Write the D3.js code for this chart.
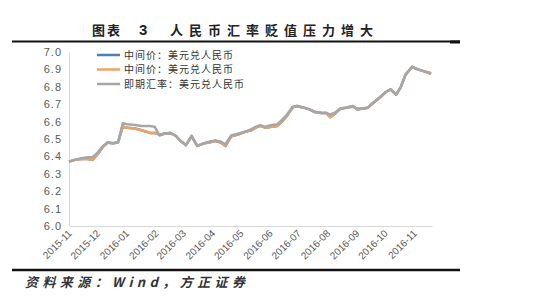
<!DOCTYPE html>
<html>
<head>
<meta charset="utf-8">
<script src="https://d3js.org/d3.v7.min.js"></script>
<style>
  body { margin: 0; background: #fff; }
  svg { display: block; }
</style>
</head>
<body>
<div id="chart"></div>
<script>
// data (weekly points)
var dates = ["2015-11-01", "2015-11-07", "2015-11-14", "2015-11-21", "2015-11-26", "2015-12-01",
    "2015-12-07", "2015-12-12", "2015-12-17", "2015-12-23", "2015-12-28", "2016-01-02",
    "2016-01-10", "2016-01-17", "2016-01-26", "2016-01-31", "2016-02-05", "2016-02-10",
    "2016-02-16", "2016-02-22", "2016-02-27", "2016-03-04", "2016-03-10", "2016-03-16",
    "2016-03-23", "2016-03-29", "2016-04-04", "2016-04-10", "2016-04-15", "2016-04-21",
    "2016-04-28", "2016-05-05", "2016-05-12", "2016-05-17", "2016-05-22", "2016-05-27",
    "2016-06-03", "2016-06-09", "2016-06-14", "2016-06-20", "2016-06-25", "2016-06-30",
    "2016-07-07", "2016-07-13", "2016-07-19", "2016-07-26", "2016-07-31", "2016-08-04",
    "2016-08-10", "2016-08-15", "2016-08-21", "2016-08-28", "2016-09-02", "2016-09-07",
    "2016-09-13", "2016-09-19", "2016-09-26", "2016-10-02", "2016-10-07", "2016-10-13",
    "2016-10-18", "2016-10-23", "2016-10-30", "2016-11-05", "2016-11-11", "2016-11-19"];

// 中间价 (drawn twice: blue underneath, orange on top)
var midRate = [6.370, 6.380, 6.385, 6.385, 6.380, 6.410,
    6.455, 6.480, 6.475, 6.480, 6.570, 6.565,
    6.560, 6.550, 6.535, 6.535, 6.525, 6.530,
    6.535, 6.520, 6.490, 6.465, 6.515, 6.460,
    6.475, 6.480, 6.490, 6.480, 6.460, 6.515,
    6.525, 6.540, 6.550, 6.565, 6.575, 6.565,
    6.570, 6.575, 6.600, 6.640, 6.680, 6.690,
    6.680, 6.670, 6.655, 6.650, 6.650, 6.625,
    6.650, 6.675, 6.680, 6.690, 6.670, 6.675,
    6.680, 6.710, 6.740, 6.770, 6.785, 6.755,
    6.800, 6.870, 6.915, 6.900, 6.890, 6.875];

// 即期汇率
var spotRate = [6.370, 6.380, 6.390, 6.395, 6.395, 6.420,
    6.460, 6.480, 6.475, 6.480, 6.590, 6.585,
    6.580, 6.575, 6.575, 6.570, 6.520, 6.530,
    6.535, 6.520, 6.490, 6.465, 6.520, 6.460,
    6.475, 6.485, 6.490, 6.485, 6.470, 6.520,
    6.530, 6.540, 6.555, 6.570, 6.580, 6.570,
    6.580, 6.585, 6.610, 6.645, 6.685, 6.690,
    6.680, 6.670, 6.655, 6.650, 6.650, 6.640,
    6.655, 6.675, 6.680, 6.685, 6.675, 6.675,
    6.680, 6.710, 6.740, 6.770, 6.785, 6.755,
    6.800, 6.870, 6.915, 6.900, 6.890, 6.880];

var seriesNames = ["中间价：美元兑人民币", "中间价：美元兑人民币", "即期汇率：美元兑人民币"];
var seriesColors = ["#4A7EBB", "#F0A262", "#A6A6A6"];
var yTicks = [6.0, 6.1, 6.2, 6.3, 6.4, 6.5, 6.6, 6.7, 6.8, 6.9, 7.0];
var monthTicks = ["2015-11", "2015-12", "2016-01", "2016-02", "2016-03", "2016-04", "2016-05",
    "2016-06", "2016-07", "2016-08", "2016-09", "2016-10", "2016-11"];

var svgWidth = 550;
var svgHeight = 300;
var margin = { top: 52, right: 118, bottom: 74, left: 69 };
var chartWidth = svgWidth - margin.left - margin.right;
var chartHeight = svgHeight - margin.top - margin.bottom;

var parseDay = d3.timeParse("%Y-%m-%d");
var parseMonth = d3.timeParse("%Y-%m");
var fmtMonth = d3.timeFormat("%Y-%m");
var cjk = "'Noto Sans CJK SC', 'Noto Sans', sans-serif";

var svg = d3.select("#chart")
    .append("svg")
    .attr("width", svgWidth)
    .attr("height", svgHeight);

// title + rules
var title = svg.append("text")
    .attr("y", 35)
    .attr("font-family", cjk)
    .attr("font-size", 13)
    .attr("font-weight", 700)
    .attr("fill", "#222");
title.append("tspan").attr("x", 92).attr("letter-spacing", 2).text("图表");
title.append("tspan").attr("x", 139).attr("font-size", 15).attr("font-family", "Arial, 'Liberation Sans', sans-serif").text("3");
title.append("tspan").attr("x", 170).attr("letter-spacing", 6).text("人民币汇率贬值压力增大");

svg.append("line")
    .attr("x1", 12).attr("x2", 460)
    .attr("y1", 41.5).attr("y2", 41.5)
    .attr("stroke", "#111").attr("stroke-width", 1.8);
svg.append("line")
    .attr("x1", 450).attr("x2", 460)
    .attr("y1", 42).attr("y2", 42)
    .attr("stroke", "#111").attr("stroke-width", 3);
svg.append("line")
    .attr("x1", 12).attr("x2", 460)
    .attr("y1", 270).attr("y2", 270)
    .attr("stroke", "#111").attr("stroke-width", 2.5);

svg.append("text")
    .attr("x", 25)
    .attr("y", 287)
    .attr("font-family", cjk)
    .attr("font-size", 13)
    .attr("font-style", "italic")
    .attr("font-weight", 700)
    .attr("fill", "#333")
    .attr("textLength", 220)
    .attr("lengthAdjust", "spacing")
    .text("资料来源：Wind，方正证券");

var chartGroup = svg.append("g")
    .attr("transform", `translate(${margin.left}, ${margin.top})`);

// scales
var xTimeScale = d3.scaleTime()
    .domain([parseDay("2015-11-01"), parseDay("2016-11-20")])
    .range([0, chartWidth]);
var yLinearScale = d3.scaleLinear()
    .domain([6.0, 7.0])
    .range([chartHeight, 0]);

// axes
var bottomAxis = d3.axisBottom(xTimeScale)
    .tickValues(monthTicks.map(parseMonth))
    .tickFormat(fmtMonth)
    .tickSize(0);
var leftAxis = d3.axisLeft(yLinearScale)
    .tickValues(yTicks)
    .tickFormat(d3.format(".1f"))
    .tickSize(0);

var xAxisG = chartGroup.append("g")
    .attr("transform", `translate(0, ${chartHeight})`)
    .call(bottomAxis);
xAxisG.select(".domain").attr("stroke", "#D9D9D9");
xAxisG.selectAll("text")
    .attr("font-family", "Arial, 'Liberation Sans', sans-serif")
    .attr("font-size", 10)
    .attr("fill", "#595959")
    .attr("text-anchor", "end")
    .attr("dy", null)
    .attr("y", 0)
    .attr("transform", "translate(3, 8) rotate(-45)");

var yAxisG = chartGroup.append("g")
    .call(leftAxis);
yAxisG.select(".domain").attr("stroke", "#D9D9D9");
yAxisG.selectAll("text")
    .attr("font-family", "Arial, 'Liberation Sans', sans-serif")
    .attr("font-size", 11)
    .attr("fill", "#595959")
    .attr("x", -7)
    .attr("letter-spacing", 1);

// lines
var seriesData = [midRate, midRate, spotRate];
var lineGen = d3.line()
    .x((d, i) => xTimeScale(parseDay(dates[i])))
    .y(d => yLinearScale(d));

chartGroup.selectAll(".series")
    .data(seriesData)
    .enter()
    .append("path")
    .attr("class", "series")
    .attr("fill", "none")
    .attr("stroke", (d, i) => seriesColors[i])
    .attr("stroke-width", 2.5)
    .attr("stroke-linejoin", "round")
    .attr("d", lineGen);

// legend
var legend = svg.selectAll(".legend")
    .data(seriesNames)
    .enter()
    .append("g")
    .attr("class", "legend")
    .attr("transform", (d, i) => `translate(97, ${55 + i * 14.5})`);
legend.append("line")
    .attr("x1", 0).attr("x2", 23)
    .attr("stroke", (d, i) => seriesColors[i])
    .attr("stroke-width", 2.5);
legend.append("text")
    .attr("x", 27)
    .attr("dy", "0.35em")
    .attr("font-family", cjk)
    .attr("font-size", 10)
    .attr("letter-spacing", 1)
    .attr("fill", "#333")
    .text(d => d);
</script>
</body>
</html>
